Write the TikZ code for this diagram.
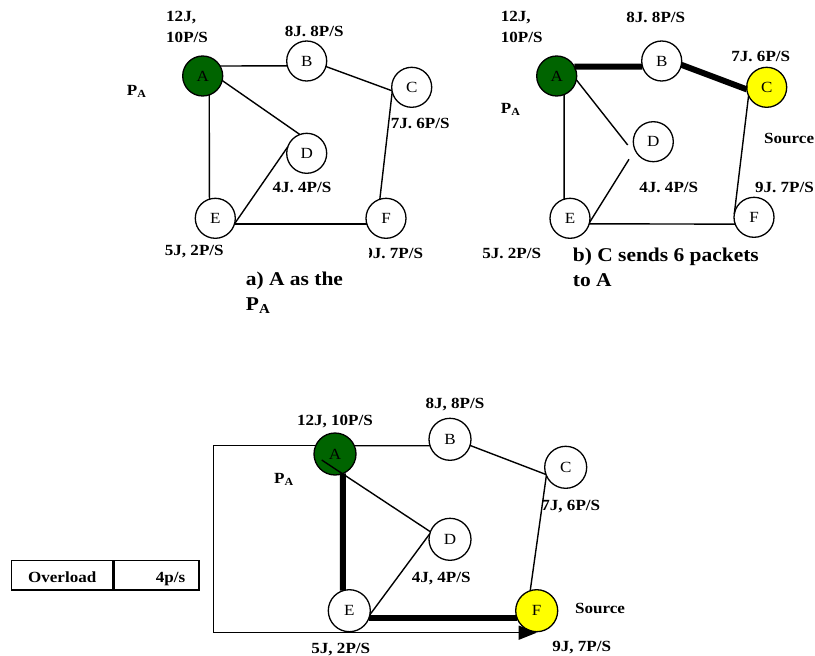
\documentclass[tikz,border=0pt]{standalone}
\usepackage{fontspec}
\setmainfont{Liberation Serif}[FakeStretch=1.1]
\usetikzlibrary{arrows.meta}
\definecolor{pagreen}{RGB}{0,100,0}
\definecolor{srcyellow}{RGB}{255,255,0}
\newcommand{\PAlbl}{P\textsubscript{A}}
\tikzset{
  vtx/.style={circle, draw, line width=1.3pt, minimum size=40pt, inner sep=0pt, outer sep=0pt, fill=white, font=\fontsize{15.5}{15.5}\selectfont},
  vbig/.style={vtx, minimum size=42pt},
  lbl/.style={inner sep=0pt, font=\bfseries\fontsize{15.5}{21}\selectfont},
  capt/.style={inner sep=0pt, align=left, font=\bfseries\fontsize{19.5}{25}\selectfont},
  edge/.style={line width=1.4pt},
  route/.style={line width=6pt},
  cell/.style={draw, line width=1.5pt, inner sep=0pt, minimum height=29.3pt, text height=15pt, text depth=0pt, lbl},
}
\begin{document}
\begin{tikzpicture}[x=1pt, y=-1pt]
\useasboundingbox (0,0) rectangle (815,656);
% a) A as the P_A
\node[vtx, fill=pagreen] (a1) at (202.7,76) {A};
\node[vtx] (b1) at (306.7,61) {B};
\node[vtx] (c1) at (411.7,87.3) {C};
\node[vtx] (d1) at (306.7,153.3) {D};
\node[vtx] (e1) at (215.3,218.3) {E};
\node[vtx] (f1) at (386,218.3) {F};
\draw[edge] (a1.30) -- (b1.194);
\draw[edge] (b1.-16) -- (c1.190);
\draw[edge] (a1.-13) -- (d1.110);
\draw[edge] (a1.-71) -- (e1.107);
\draw[edge] (d1.161) -- (e1.-16);
\draw[edge] (e1.-16) -- (f1.196);
\draw[edge] (c1.193) -- (f1.108);
\node[lbl, anchor=north west, align=left] (la1) at (166,11.2) {12J,\\10P/S};
\node[lbl, anchor=base] (lb1) at (314.2,36) {8J. 8P/S};
\node[lbl, anchor=base west] (lp1) at (126.7,95) {\PAlbl};
\node[lbl, anchor=base west] (lc1) at (390.7,128.3) {7J. 6P/S};
\node[lbl, anchor=base] (ld1) at (302,192.7) {4J. 4P/S};
\node[lbl, anchor=base] (le1) at (194.3,255.7) {5J, 2P/S};
\begin{scope}
  \clip (369,230) rectangle (440,270);
  \node[lbl, anchor=base east] (lf1) at (423.3,258) {9J. 7P/S};
\end{scope}
\node[capt, anchor=north west] (cap1) at (245.7,271.5) {a) A as the\\\PAlbl};
% b) C sends 6 packets to A
\node[vtx, fill=pagreen] (a2) at (556.7,76) {A};
\node[vtx] (b2) at (661.7,61) {B};
\node[vtx, fill=srcyellow] (c2) at (766.7,87.3) {C};
\node[vtx] (d2) at (653.3,141.7) {D};
\node[vtx] (e2) at (570,218.3) {E};
\node[vtx] (f2) at (754,217.3) {F};
\draw[route] (a2.28) -- (b2.196);
\draw[route] (b2.-11) -- (c2.186);
\draw[edge] (a2.-11) -- ([shift={(-5.6,3.3)}]d2.west);
\draw[edge] (a2.-68) -- (e2.107);
\draw[edge] ([shift={(-4.3,17.6)}]d2.west) -- (e2.-12);
\draw[edge] (e2.-16) -- (f2.200);
\draw[edge] (c2.205) -- (f2.170);
\node[lbl, anchor=north west, align=left] (la2) at (500.7,11.2) {12J,\\10P/S};
\node[lbl, anchor=base] (lb2) at (655.8,22.7) {8J. 8P/S};
\node[lbl, anchor=base] (lc2) at (760.8,61.7) {7J. 6P/S};
\node[lbl, anchor=base west] (lp2) at (500.7,113.3) {\PAlbl};
\node[lbl, anchor=base west] (ls2) at (764,143.3) {Source};
\node[lbl, anchor=base east] (lf2) at (814,192.7) {9J. 7P/S};
\node[lbl, anchor=base] (ld2) at (668.8,192.7) {4J. 4P/S};
\node[lbl, anchor=base] (le2) at (511.7,258.3) {5J. 2P/S};
\node[capt, anchor=north west] (cap2) at (572.7,248.2) {b) C sends 6 packets\\to A};
% overload route
\node[vbig, fill=pagreen] (a3) at (335,454) {A};
\node[vbig] (b3) at (450,439.3) {B};
\node[vbig] (c3) at (565.7,467.3) {C};
\node[vbig] (d3) at (450,539.3) {D};
\node[vbig] (e3) at (349.3,610.7) {E};
\node[vbig, fill=srcyellow] (f3) at (536.7,610.7) {F};
\coordinate (lc) at (213.3,632.7);
\draw[edge] (a3.23) -- (b3.198);
\draw[edge] (b3.-17) -- (c3.200);
\draw[edge] ([shift={(-13.3,6)}]a3.center) -- (d3.159);
\draw[edge] (e3.-11) -- (d3.165);
\draw[edge] (c3.203) -- (f3.108);
\draw[route] (a3.-68) -- (e3.108);
\draw[route] (e3.-21) -- (f3.201);
\draw[edge, -{Triangle[length=18pt,width=14pt]}] (a3.157) -| (lc) -- (lc -| f3.south);
\node[lbl, anchor=base] (la3) at (335,425) {12J, 10P/S};
\node[lbl, anchor=base] (lb3) at (455,408.3) {8J, 8P/S};
\node[lbl, anchor=base west] (lp3) at (274,483.3) {\PAlbl};
\node[lbl, anchor=base] (lc3) at (570.8,510.7) {7J, 6P/S};
\node[lbl, anchor=base] (ld3) at (441.2,582.7) {4J, 4P/S};
\node[lbl, anchor=base] (ls3) at (600,613.3) {Source};
\node[lbl, anchor=base] (le3) at (340.8,653.3) {5J, 2P/S};
\node[lbl, anchor=base] (lf3) at (581.7,651.7) {9J, 7P/S};
\node[cell, minimum width=101pt] (ovl) at (62.2,575.35) {Overload};
\node[cell, minimum width=84.6pt, anchor=west] (ovv) at (ovl.east) {\hspace*{28pt}4p/s};
\end{tikzpicture}
\end{document}
